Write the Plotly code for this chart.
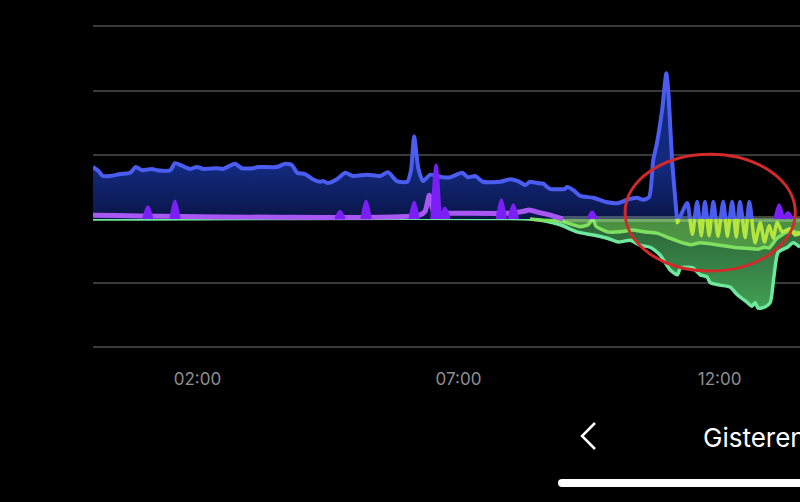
import plotly.graph_objects as go

# ---------------- data (time in hours since 00:00, values in grid units) ----------------
net_t = [0.00, 0.10, 0.19, 0.33, 0.52, 0.71, 0.82, 0.94, 1.13, 1.23, 1.48, 1.57, 1.70, 1.86, 1.99,
         2.11, 2.38, 2.49, 2.72, 2.85, 3.07, 3.16, 3.52, 3.68, 3.81, 3.91, 4.06, 4.21, 4.35, 4.41,
         4.50, 4.67, 4.83, 4.98, 5.25, 5.50, 5.65, 5.82, 6.02, 6.09, 6.15, 6.23, 6.32, 6.46, 6.70,
         6.84, 7.07, 7.18, 7.32, 7.47, 7.80, 7.99, 8.14, 8.28, 8.37, 8.51, 8.62, 8.75, 9.04, 9.08,
         9.20, 9.33, 9.58, 9.85, 10.06, 10.23, 10.42, 10.54, 10.65, 10.73, 10.80, 10.90, 10.98, 11.02,
         11.09, 11.19, 11.38, 11.48, 11.57, 11.65, 11.72, 11.80, 11.88, 11.97, 12.07, 12.15, 12.24,
         12.32, 12.39, 12.49, 12.57, 12.68, 12.78, 12.86, 12.95, 13.03, 13.10, 13.20, 13.35, 13.45, 13.54]
net_v = [0.81, 0.75, 0.67, 0.67, 0.70, 0.72, 0.81, 0.76, 0.78, 0.76, 0.76, 0.87, 0.83, 0.78, 0.81,
         0.78, 0.79, 0.78, 0.86, 0.79, 0.79, 0.81, 0.81, 0.86, 0.84, 0.72, 0.70, 0.62, 0.58, 0.59,
         0.56, 0.62, 0.72, 0.67, 0.69, 0.67, 0.73, 0.59, 0.58, 0.76, 1.29, 0.79, 0.59, 0.69, 0.65,
         0.65, 0.72, 0.65, 0.67, 0.58, 0.58, 0.62, 0.59, 0.53, 0.58, 0.56, 0.55, 0.47, 0.47, 0.50,
         0.45, 0.36, 0.33, 0.26, 0.25, 0.30, 0.33, 0.30, 0.34, 0.92, 1.18, 1.70, 2.27, 1.96,
         0.92, -0.06, 0.25, -0.24, 0.27, -0.26, 0.27, -0.26, 0.27, -0.27, 0.27, -0.27, 0.27,
         -0.28, 0.27, -0.29, 0.27, -0.37, -0.06, -0.36, -0.10, -0.30, -0.05, -0.20, -0.15, -0.25, -0.20]

solar_t = [0.00, 8.37, 8.66, 8.95, 9.27, 9.58, 9.85, 10.06, 10.29, 10.48, 10.67, 10.86, 11.05, 11.19,
           11.25, 11.38, 11.49, 11.63, 11.76, 11.82, 12.01, 12.20, 12.34, 12.53, 12.62, 12.68, 12.74,
           12.87, 12.97, 13.04, 13.12, 13.30, 13.41, 13.54]
solar_v = [0.00, 0.00, -0.03, -0.09, -0.20, -0.25, -0.30, -0.36, -0.33, -0.41, -0.44, -0.56, -0.79, -0.87,
           -0.76, -0.75, -0.76, -0.87, -0.90, -0.99, -1.03, -1.06, -1.18, -1.30, -1.36, -1.30, -1.39,
           -1.37, -1.30, -0.90, -0.52, -0.44, -0.37, -0.44]

export_t = [8.37, 8.62, 8.95, 9.33, 9.48, 9.54, 9.58, 9.63, 9.85, 10.10, 10.34, 10.54, 10.80,
            11.05, 11.25, 11.45, 11.63, 11.95, 12.26, 12.58, 12.74, 12.86, 12.95, 13.10, 13.30, 13.45, 13.54]
export_v = [0.00, -0.02, -0.03, -0.12, -0.09, -0.03, -0.01, -0.11, -0.20, -0.20, -0.17, -0.20, -0.22,
            -0.30, -0.36, -0.40, -0.37, -0.40, -0.44, -0.46, -0.47, -0.44, -0.45, -0.30, -0.20, -0.20, -0.25]

base_t = [0.00, 6.25, 6.36, 6.44, 6.52, 6.62, 6.75, 8.00, 8.25, 8.35, 8.55, 8.80, 9.00]
base_v = [0.06, 0.06, 0.12, 0.37, 0.12, 0.08, 0.09, 0.09, 0.12, 0.14, 0.10, 0.05, 0.00]

spike_t = [1.05, 1.57, 4.73, 5.23, 6.15, 6.57, 6.74, 7.82, 8.05, 9.56, 13.14, 13.31]
spike_v = [0.19, 0.28, 0.12, 0.28, 0.26, 0.84, 0.17, 0.30, 0.22, 0.11, 0.22, 0.10]

tick_vals = [2, 7, 12]
tick_text = ["02:00", "07:00", "12:00"]
nav_label = "Gisteren"

# ---------------- layout geometry ----------------
W, H = 800, 502
ML, MR, MT, MB = 93, 0, 10, 142
XMAX = 13.54
YMIN, YMAX = -2.196, 3.255


def pxx(x):
    return (x - ML) / (W - ML - MR)


def pxy(y):
    return (H - MB - y) / (H - MT - MB)


def split_at_zero(ts, vs):
    pts = []
    for i in range(len(ts)):
        if i > 0:
            t0, v0, t1, v1 = ts[i - 1], vs[i - 1], ts[i], vs[i]
            if (v0 > 0 > v1) or (v0 < 0 < v1):
                pts.append((t0 + (t1 - t0) * v0 / (v0 - v1), 0.0))
        pts.append((ts[i], vs[i]))
    tt = [p[0] for p in pts]
    fill = [max(p[1], 0.0) for p in pts]
    pos = [p[1] if p[1] >= 0 else None for p in pts]
    neg = [p[1] if p[1] <= 0 else None for p in pts]
    return tt, fill, pos, neg


nt, nfill, npos, nneg = split_at_zero(net_t, net_v)

fig = go.Figure()

# solar (lower mint) area + line
fig.add_trace(go.Scatter(x=solar_t, y=solar_v, mode="lines",
                         line=dict(color="#6ee89c", width=3.5, shape="spline", smoothing=0.6),
                         fill="tozeroy",
                         fillgradient=dict(type="vertical", start=-1.4, stop=0,
                                           colorscale=[[0, "#42a055"], [1, "#2b6136"]]),
                         showlegend=False))

# blue import area
fig.add_trace(go.Scatter(x=nt, y=nfill, mode="lines", line=dict(width=0, shape="spline", smoothing=0.6),
                         fill="tozeroy",
                         fillgradient=dict(type="vertical", start=0, stop=0.8,
                                           colorscale=[[0, "#0a1548"], [1, "#12297e"]]),
                         hoverinfo="skip", showlegend=False))

# export (upper green) area + line
fig.add_trace(go.Scatter(x=export_t, y=export_v, mode="lines",
                         line=dict(color="#7fe060", width=3.5, shape="spline", smoothing=0.6),
                         fill="tozeroy", fillcolor="rgba(115,200,80,0.45)",
                         showlegend=False))

# pale zero band over the production area
fig.add_trace(go.Scatter(x=[base_t[-1], net_t[-1]], y=[0, 0], mode="lines",
                         line=dict(color="rgba(205,240,195,0.30)", width=6),
                         hoverinfo="skip", showlegend=False))

# blue net line (positive part)
fig.add_trace(go.Scatter(x=nt, y=npos, mode="lines", connectgaps=False,
                         line=dict(color="#4b5cf0", width=4, shape="spline", smoothing=0.6),
                         showlegend=False))
# yellow-green net line (negative part)
fig.add_trace(go.Scatter(x=nt, y=nneg, mode="lines", connectgaps=False,
                         line=dict(color="#b6e63e", width=3.5, shape="spline", smoothing=0.6),
                         showlegend=False))

# lilac base line
fig.add_trace(go.Scatter(x=base_t, y=base_v, mode="lines",
                         line=dict(color="#a856f4", width=5, shape="spline", smoothing=0.6),
                         showlegend=False))

# violet spikes
SW = 0.08
for t, h in zip(spike_t, spike_v):
    fig.add_trace(go.Scatter(x=[t - SW, t, t + SW], y=[0.0, h, 0.0], mode="lines",
                             line=dict(color="#7a1ff5", width=3, shape="spline", smoothing=1.0),
                             fill="toself", fillcolor="#7a1ff5", showlegend=False))

shapes = [
    dict(type="circle", xref="x", yref="y", x0=10.19, x1=13.45, y0=-0.81, y1=1.01,
         line=dict(color="#d22a2a", width=3), layer="above"),
    dict(type="path", xref="paper", yref="paper",
         path=f"M {pxx(595)},{pxy(423)} L {pxx(582)},{pxy(436)} L {pxx(595)},{pxy(449)}",
         line=dict(color="white", width=2.5)),
    dict(type="path", xref="paper", yref="paper",
         path=(f"M {pxx(562)},{pxy(479)} L {pxx(830)},{pxy(479)} L {pxx(830)},{pxy(487)} "
               f"L {pxx(562)},{pxy(487)} Q {pxx(558)},{pxy(487)} {pxx(558)},{pxy(483)} "
               f"Q {pxx(558)},{pxy(479)} {pxx(562)},{pxy(479)} Z"),
         fillcolor="white", line=dict(width=0)),
]

fig.update_layout(
    width=W, height=H,
    margin=dict(l=ML, r=MR, t=MT, b=MB, pad=0),
    paper_bgcolor="black", plot_bgcolor="black",
    showlegend=False,
    font=dict(family="Inter, Roboto, sans-serif"),
    xaxis=dict(range=[0, XMAX], showgrid=False, zeroline=False, showline=False,
               tickmode="array", tickvals=tick_vals, ticktext=tick_text, ticks="",
               tickfont=dict(color="#8e8e93", size=17), ticklabelstandoff=7, fixedrange=True),
    yaxis=dict(range=[YMIN, YMAX], tick0=0, dtick=1, showgrid=True, gridcolor="#3a3a3a",
               gridwidth=2, zeroline=False, showticklabels=False, ticks="", fixedrange=True),
    shapes=shapes,
    annotations=[dict(text=nav_label, xref="paper", yref="paper", x=pxx(701), y=pxy(437),
                      xanchor="left", yanchor="middle", showarrow=False,
                      font=dict(color="white", size=26, family="Inter, Roboto, sans-serif"))],
)

fig.write_html("out.html", config={"displayModeBar": False},
               post_script="document.body.style.margin='0';document.body.style.background='black';")
